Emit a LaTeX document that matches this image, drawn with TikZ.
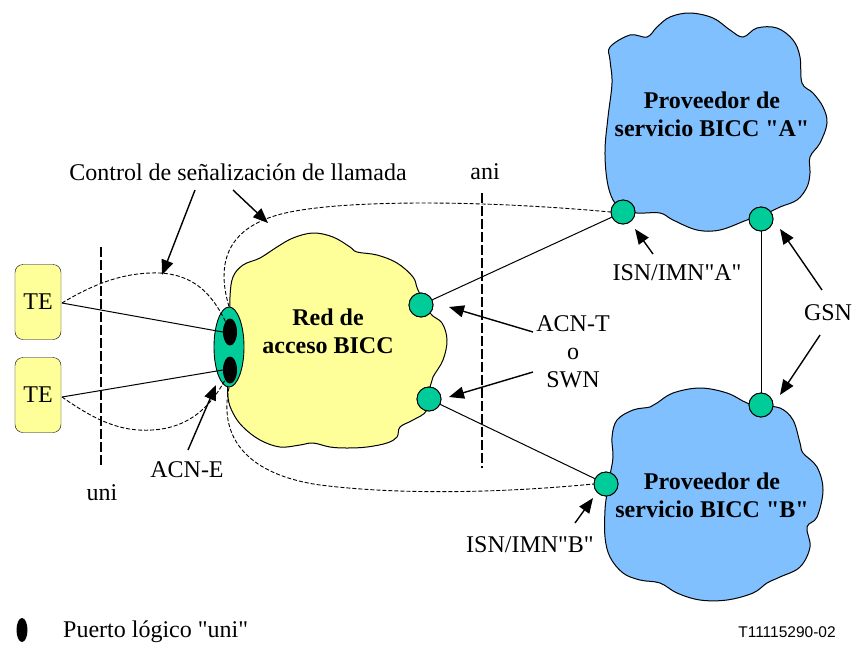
\documentclass[tikz,border=0pt]{standalone}
\usepackage{fontspec}
\setmainfont{Liberation Serif}[Ligatures=TeXOff]
\setsansfont{Liberation Sans}[Ligatures=TeXOff]
\usetikzlibrary{arrows.meta,shapes.geometric}
\definecolor{yel}{HTML}{FFFF99}
\definecolor{blu}{HTML}{80C0FF}
\definecolor{grn}{HTML}{00CC99}
\begin{document}
\begin{tikzpicture}[x=1pt,y=-1pt,
  lbl/.style={font=\fontsize{24}{28}\selectfont, inner sep=0pt, align=center},
  blbl/.style={font=\fontsize{24}{28}\selectfont\bfseries, align=center, inner sep=0pt},
  tebox/.style={draw, fill=yel, rounded corners=8pt, minimum width=46pt, minimum height=75pt, inner sep=0pt, font=\fontsize{24}{28}\selectfont},
  gdot/.style={circle, draw, fill=grn, minimum size=24pt, inner sep=0pt, line width=0.9pt},
  cloudline/.style={draw, line width=1pt},
  ptr/.style={-{Triangle[length=15pt,width=12pt]}, line width=1.4pt},
  sig/.style={dash pattern=on 4pt off 2pt, line width=0.9pt},
  bnd/.style={dash pattern=on 10pt off 3pt, line width=1.5pt},
  link/.style={line width=1pt}]

\useasboundingbox (0,0) rectangle (853,646);

% clouds
\draw[cloudline, fill=yel] plot[smooth cycle, tension=0.6] coordinates {
 (233,277) (243,265) (260,258) (277,247) (293,238) (313,233) (333,237) (350,247)
 (357,252) (377,255) (397,263) (413,277) (418,290) (430,313) (442,323) (447,340)
 (443,360) (433,377) (430,387) (427,410) (413,420) (400,427) (397,437) (387,443)
 (367,447) (347,448) (330,447) (313,443) (300,445) (280,447) (260,440) (243,427)
 (233,413) (228,397) (228,367) (230,330) (230,297)};

\draw[cloudline, fill=blu] plot[smooth cycle, tension=0.6] coordinates {
 (610,47) (630,35) (647,37) (657,27) (670,17) (690,13) (713,18) (730,30) (743,37)
 (757,28) (777,28) (793,40) (800,57) (802,83) (813,93) (823,107) (827,123) (820,143)
 (810,157) (810,173) (807,187) (797,200) (780,207) (761,216) (747,220) (720,230)
 (697,230) (673,220) (660,213) (637,213) (623,209) (613,200) (607,180) (605,150)
 (608,117) (612,83) (610,60)};

\draw[cloudline, fill=blu] plot[smooth cycle, tension=0.6] coordinates {
 (617,420) (633,410) (650,407) (657,403) (673,393) (700,388) (727,393) (747,403)
 (761,406) (780,408) (793,420) (800,443) (803,453) (817,467) (823,490) (817,517)
 (807,527) (810,547) (800,567) (780,577) (767,583) (753,593) (727,600) (700,600)
 (677,593) (660,583) (640,580) (623,573) (610,557) (605,537) (605,510) (607,493)
 (610,475) (613,457) (612,437)};

% cloud labels
\node[blbl] (redlbl) at (328,331) {Red de\\acceso BICC};
\node[blbl] (provA) at (712,114) {Proveedor de\\servicio BICC "A"};
\node[blbl] (provB) at (712,495) {Proveedor de\\servicio BICC "B"};

% boundaries
\coordinate (uniT) at (101,247); \coordinate (uniB) at (101,468);
\coordinate (aniT) at (482,193); \coordinate (aniB) at (482,468);
\draw[bnd] (uniT) -- (uniB);
\draw[bnd] (aniT) -- (aniB);
\node[lbl] (unilbl) at (102,493) {uni};
\node[lbl] (anilbl) at (485,172) {ani};

% TE boxes
\node[tebox] (te1) at (38,302) {TE};
\node[tebox] (te2) at (38,395) {TE};

% ACN-E
\node[ellipse, draw, fill=grn, minimum width=30pt, minimum height=80pt, inner sep=0pt, line width=0.9pt] (acne) at (229,347) {};
\node[ellipse, fill=black, minimum width=14pt, minimum height=27pt, inner sep=0pt] (p1) at (230,332) {};
\node[ellipse, fill=black, minimum width=14pt, minimum height=27pt, inner sep=0pt] (p2) at (230,370) {};

% signalling loops
\coordinate (te1e) at (62,303);
\coordinate (te2e) at (62,397);
\draw[sig] (te1e) .. controls (100,280) and (130,272) .. (160,273) .. controls (195,275) and (215,295) .. (p1.center);
\draw[sig] (te2e) .. controls (95,420) and (120,432) .. (152,430) .. controls (190,428) and (214,405) .. (p2.center);
\draw[link] (te1e) -- (p1.west);
\draw[link] (te2e) -- (p2.west);

% green dots (positions)
\node[gdot] (cy1) at (421,305) {};
\node[gdot] (cy2) at (429,399) {};
\node[gdot] (ca1) at (623,212) {};
\node[gdot] (ca2) at (761,219) {};
\node[gdot] (cb1) at (606,484) {};
\node[gdot] (cb2) at (761,405) {};

% big signalling loop
\draw[sig] (acne.north) .. controls (212,250) and (240,222) .. (290,212) .. controls (350,200) and (480,200) .. (ca1.west);
\draw[sig] (acne.south) .. controls (218,440) and (250,475) .. (320,485) .. controls (400,495) and (500,493) .. (cb1.west);

% links
\draw[link] (cy1) -- (ca1);
\draw[link] (cy2) -- (cb1);
\draw[link] (ca2) -- (cb2);
\node[gdot] at (cy1) {};
\node[gdot] at (cy2) {};
\node[gdot] at (ca1) {};
\node[gdot] at (ca2) {};
\node[gdot] at (cb1) {};
\node[gdot] at (cb2) {};

% labels and pointers
\node[lbl] (ctrl) at (238,172) {Control de señalización de llamada};
\coordinate (a1s) at (195,190); \coordinate (a1t) at (162,275);
\coordinate (a2s) at (233,190); \coordinate (a2t) at (268,223);
\draw[ptr] (a1s) -- (a1t);
\draw[ptr] (a2s) -- (a2t);

\node[lbl] (acnelbl) at (187,470) {ACN-E};
\coordinate (a3s) at (188,450); \coordinate (a3t) at (216,385);
\draw[ptr] (a3s) -- (a3t);

\node[lbl] (acnt) at (573,352) {ACN-T\\o\\SWN};
\coordinate (a4s) at (533,332); \coordinate (a4t) at (449,307);
\coordinate (a5s) at (533,372); \coordinate (a5t) at (449,397);
\draw[ptr] (a4s) -- (a4t);
\draw[ptr] (a5s) -- (a5t);

\node[lbl] (isna) at (677,273) {ISN/IMN"A"};
\coordinate (a6s) at (653,254); \coordinate (a6t) at (635,229);
\draw[ptr] (a6s) -- (a6t);

\node[lbl] (gsn) at (828,313) {GSN};
\coordinate (a7s) at (822,290); \coordinate (a7t) at (780,229);
\coordinate (a8s) at (820,335); \coordinate (a8t) at (780,395);
\draw[ptr] (a7s) -- (a7t);
\draw[ptr] (a8s) -- (a8t);

\node[lbl] (isnb) at (530,545) {ISN/IMN"B"};
\coordinate (a9s) at (575,523); \coordinate (a9t) at (593,498);
\draw[ptr] (a9s) -- (a9t);

% legend
\node[ellipse, fill=black, minimum width=11pt, minimum height=24pt, inner sep=0pt] (leg) at (22,630) {};
\node[lbl, anchor=west] (leglbl) at (63,632) {Puerto lógico "uni"};
\node[font=\sffamily\fontsize{15.5}{18}\selectfont, inner sep=0pt] (fig) at (787,632) {T11115290-02};
\end{tikzpicture}
\end{document}
